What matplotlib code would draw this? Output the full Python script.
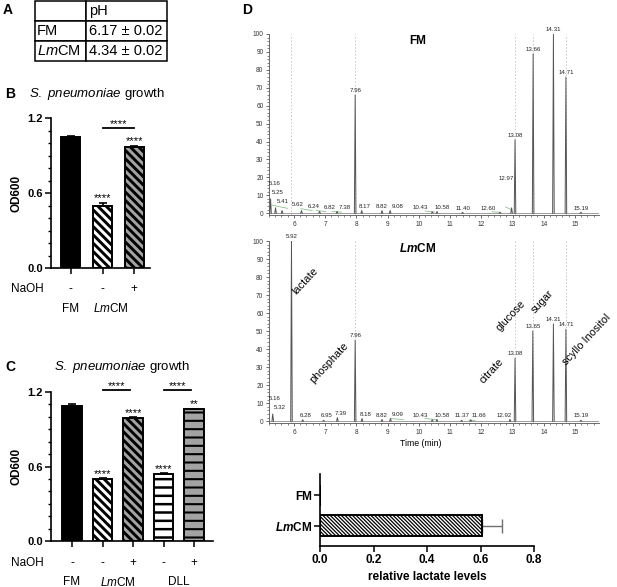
import numpy as np
import matplotlib.pyplot as plt
from matplotlib.ticker import MultipleLocator

plt.rcParams['font.family'] = ['Liberation Sans', 'DejaVu Sans']
plt.rcParams['mathtext.fontset'] = 'custom'
plt.rcParams['mathtext.rm'] = 'Liberation Sans'
plt.rcParams['mathtext.it'] = 'Liberation Sans:italic'
plt.rcParams['mathtext.bf'] = 'Liberation Sans:bold'
plt.rcParams['mathtext.bfit'] = 'Liberation Sans:italic:bold'

W, H = 617, 587

# ---- data ----
ph_header = ['', 'pH']
ph_rows = ['FM', r'$\mathit{Lm}$CM']
ph_values = ['6.17 ± 0.02', '4.34 ± 0.02']

b_naoh = ['-', '-', '+']
b_od = [1.05, 0.50, 0.97]
b_err = [0.008, 0.02, 0.01]
b_stars = ['', '****', '****']

c_naoh = ['-', '-', '+', '-', '+']
c_od = [1.09, 0.50, 0.99, 0.54, 1.06]
c_err = [0.012, 0.006, 0.006, 0.006, 0.006]
c_stars = ['', '****', '****', '****', '**']

fm_times = [5.16, 5.25, 5.41, 5.62, 6.24, 6.82, 7.38, 7.96, 8.17, 8.82, 9.08,
            10.43, 10.58, 11.40, 12.60, 12.97, 13.08, 13.66, 14.31, 14.71, 15.19]
fm_heights = [13, 8, 3, 1.5, 1.5, 1, 1, 66, 1.5, 1.5, 1.5,
              0.8, 1, 0.5, 0.5, 3, 41, 89, 100, 76, 0.5]
fm_base_start = [5.30, 6.22, 6.72, 7.22, 10.20, 12.35, 12.78]
fm_base_end = [5.80, 6.58, 7.02, 7.52, 10.50, 12.62, 12.95]
fm_base_level = [4.5, 2.5, 1.5, 1.0, 1.2, 0.8, 3.5]

lm_times = [5.16, 5.32, 5.92, 6.28, 6.95, 7.39, 7.96, 8.18, 8.82, 9.09,
            10.43, 10.58, 11.37, 11.66, 12.92, 13.08, 13.65, 14.31, 14.71, 15.19]
lm_heights = [9, 4, 100, 0.8, 0.5, 2, 45, 1.5, 1, 1.5,
              0.8, 1, 0.5, 0.8, 1, 35, 50, 54, 51, 0.5]
lm_base_start = [9.10, 10.20, 11.60]
lm_base_end = [9.50, 10.55, 11.80]
lm_base_level = [1.5, 1.5, 0.6]

marker_times = [5.92, 7.96, 13.08, 13.65, 14.71]

lactate_groups = ['FM', r'$\mathbfit{Lm}$CM']
lactate_vals = [0.0, 0.605]
lactate_err = [0.0, 0.075]


def rect(l, t, r, b):
    return [l / W, 1 - b / H, (r - l) / W, (b - t) / H]


def fx(px):
    return px / W


def fy(py):
    return 1 - py / H


fig = plt.figure(figsize=(W / 100, H / 100), dpi=100)

# ---- A: table ----
axA = fig.add_axes(rect(35, 1, 167, 61))
axA.axis('off')
cells = [ph_header] + [[r, v] for r, v in zip(ph_rows, ph_values)]
tab = axA.table(cellText=cells, colWidths=[51 / 132, 81 / 132],
                bbox=[0, 0, 1, 1], cellLoc='left')
tab.auto_set_font_size(False)
tab.set_fontsize(10.5)
for cell in tab.get_celld().values():
    cell.set_linewidth(1.1)
    cell.PAD = 0.04
fig.text(fx(3), fy(10), 'A', fontsize=10, fontweight='bold', va='center')


# ---- B / C: growth bars ----
def growth_panel(ax, od, err, stars, fills, hatches, hlws, width):
    x = np.arange(len(od))
    for i in range(len(od)):
        with plt.rc_context({'hatch.linewidth': hlws[i]}):
            bars = ax.bar(x[i], od[i], width=width, color=fills[i],
                          edgecolor='black', linewidth=1.4, zorder=2)
        for p in bars:
            if hatches[i]:
                p.set_hatch(hatches[i])
                if hasattr(p, 'set_hatch_linewidth'):
                    p.set_hatch_linewidth(hlws[i])
    ax.errorbar(x, od, yerr=[np.zeros(len(err)), err], fmt='none',
                ecolor='black', elinewidth=1.2, capsize=3, capthick=1.2, zorder=3)
    for i, s in enumerate(stars):
        if s:
            ax.text(x[i], od[i] + err[i] + 0.012, s, ha='center', va='baseline',
                    fontsize=8)
    ax.set_ylim(0, 1.2)
    ax.set_yticks([0, 0.6, 1.2], ['0.0', '0.6', '1.2'], fontweight='bold', fontsize=8)
    ax.yaxis.set_minor_locator(MultipleLocator(0.1))
    ax.set_xticks(x, [''] * len(x))
    for s in ['top', 'right']:
        ax.spines[s].set_visible(False)
    for s in ['left', 'bottom']:
        ax.spines[s].set_linewidth(1.2)
    ax.tick_params(which='major', length=4, width=1.1, pad=2)
    ax.tick_params(which='minor', length=2.5, width=1.0)
    ax.set_ylabel('OD600', fontweight='bold', fontsize=8.5)
    return x


gray = '#a3a3a3'
diag = '\\\\\\\\'

axB = fig.add_axes(rect(51, 118, 150, 268))
xb = growth_panel(axB, b_od, b_err, b_stars,
                  ['black', 'white', gray], [None, diag, diag],
                  [1.0, 2.1, 2.1], 0.6)
axB.set_xlim(-0.63, 2.5)
axB.yaxis.set_label_coords((22 - 51) / 99, 0.5)
axB.plot([1, 2], [1.12, 1.12], color='black', lw=1.3, clip_on=False)
axB.text(1.5, 1.13, '****', ha='center', va='baseline', fontsize=8)
for i, s in enumerate(b_naoh):
    axB.text(xb[i], (268 - 289) / 150, s, transform=axB.get_xaxis_transform(),
             ha='center', va='center', fontsize=8.5)
fig.text(fx(27), fy(289), 'NaOH', ha='center', va='center', fontsize=8.5)
axB.text(0, (268 - 309) / 150, 'FM', transform=axB.get_xaxis_transform(),
         ha='center', va='center', fontsize=8.5)
axB.text(1.25, (268 - 309) / 150, r'$\mathit{Lm}$CM',
         transform=axB.get_xaxis_transform(), ha='center', va='center', fontsize=8.5)
fig.text(fx(5), fy(94), 'B', fontsize=10, fontweight='bold', va='center')
fig.text(fx(97), fy(94), r'$\mathit{S.\ pneumoniae}$ growth', fontsize=9.5,
         ha='center', va='center')

axC = fig.add_axes(rect(51, 392, 213, 541))
xc = growth_panel(axC, c_od, c_err, c_stars,
                  ['black', 'white', gray, 'white', gray],
                  [None, diag, diag, '--', '--'],
                  [1.0, 2.1, 2.1, 1.8, 1.5], 0.64)
axC.set_xlim(-0.69, 4.62)
axC.yaxis.set_label_coords((22 - 51) / 162, 0.5)
for a, b in [(1, 2), (3, 4)]:
    axC.plot([a, b - 0.1], [1.215, 1.215], color='black', lw=1.3, clip_on=False)
    axC.text((a + b - 0.1) / 2, 1.225, '****', ha='center', va='baseline',
             fontsize=8)
for i, s in enumerate(c_naoh):
    axC.text(xc[i], (541 - 563) / 149, s, transform=axC.get_xaxis_transform(),
             ha='center', va='center', fontsize=8.5)
fig.text(fx(27), fy(563), 'NaOH', ha='center', va='center', fontsize=8.5)
for xpos, lab in [(0, 'FM'), (1.5, r'$\mathit{Lm}$CM'), (3.5, 'DLL')]:
    axC.text(xpos, (541 - 582) / 149, lab, transform=axC.get_xaxis_transform(),
             ha='center', va='center', fontsize=8.5)
fig.text(fx(5), fy(367), 'C', fontsize=10, fontweight='bold', va='center')
fig.text(fx(122), fy(367), r'$\mathit{S.\ pneumoniae}$ growth', fontsize=9.5,
         ha='center', va='center')


# ---- D: chromatograms ----
def peak_label(ax, t, h):
    lab = f'{t:.2f}'
    kw = dict(va='bottom', fontsize=4.4, color='#222222')
    if h >= 20:
        ax.text(t, h + 1.2, lab, ha='center', **kw)
    elif t < 5.5:
        ax.text(t + 0.05, h + 2.0, lab, ha='left', **kw)
    elif t < 5.7:
        ax.text(t + 0.3, h + 2.0, lab, ha='left', **kw)
    elif t == 6.24:
        ax.text(t + 0.2, h + 1.0, lab, ha='left', **kw)
    elif t == 6.82:
        ax.text(t + 0.13, h + 1.0, lab, ha='left', **kw)
    elif t == 7.38:
        ax.text(t + 0.05, h + 1.0, lab, ha='left', **kw)
    elif 12.9 <= t < 13.0:
        ax.text(t + 0.06, h + (15 if h > 2 else 0.8), lab, ha='right', **kw)
    elif t in (10.43, 12.60):
        ax.text(t - 0.12, h + 1.0, lab, ha='right', **kw)
    elif t in (8.82, 11.37, 11.40, 15.19):
        ax.text(t, h + 1.0, lab, ha='center', **kw)
    elif t in (9.08, 9.09, 11.66):
        ax.text(t + 0.04, h + 1.0, lab, ha='left', **kw)
    else:
        ax.text(t - 0.08, h + 1.0, lab, ha='left', **kw)


def chrom_panel(ax, times, heights, bstart, bend, blevel, title):
    for t in marker_times:
        ax.axvline(t, color='#c9c9b0', ls=(0, (1.5, 2)), lw=0.7, zorder=0)
    ax.plot([5.2, 15.77], [0.3, 0.3], color='#777777', lw=0.5)
    for s, e, lv in zip(bstart, bend, blevel):
        ax.plot([s, e], [lv, lv * 0.6], color='#8cc08c', lw=0.6)
    w = 0.025
    for t, h in zip(times, heights):
        ax.plot([t - w, t, t + w], [0, h, 0], color='#555555', lw=0.7)
        peak_label(ax, t, h)
    ax.set_xlim(5.2, 15.77)
    ax.set_ylim(-1, 100)
    ax.set_xticks(range(6, 16))
    ax.xaxis.set_minor_locator(MultipleLocator(0.2))
    ax.set_yticks(range(0, 101, 10))
    ax.yaxis.set_minor_locator(MultipleLocator(2))
    for s in ['top', 'right']:
        ax.spines[s].set_visible(False)
    for s in ['left', 'bottom']:
        ax.spines[s].set_linewidth(0.6)
        ax.spines[s].set_color('#555555')
    ax.tick_params(which='major', length=2.5, width=0.6, pad=1.5,
                   labelsize=4.7, color='#555555', labelcolor='#333333')
    ax.tick_params(which='minor', length=1.5, width=0.5, color='#555555')
    ax.text(0.45, 0.96, title, transform=ax.transAxes, ha='center', va='center',
            fontsize=8.5, fontweight='bold')


axD1 = fig.add_axes(rect(269, 34, 599, 215))
chrom_panel(axD1, fm_times, fm_heights, fm_base_start, fm_base_end,
            fm_base_level, 'FM')
axD2 = fig.add_axes(rect(269, 241, 599, 423))
chrom_panel(axD2, lm_times, lm_heights, lm_base_start, lm_base_end,
            lm_base_level, r'$\mathbfit{Lm}$CM')
axD2.set_xlabel('Time (min)', fontsize=6.3, va='center')
axD2.xaxis.set_label_coords(0.46, (423 - 443) / 182)
fig.text(fx(242), fy(10), 'D', fontsize=10, fontweight='bold', va='center')

for lab, t, y in [('lactate', 6.13, 69), ('phosphate', 6.67, 20),
                  ('citrate', 12.12, 20), ('glucose', 12.66, 49),
                  ('sugar', 13.78, 59), ('scyllo Inositol', 14.78, 30)]:
    axD2.text(t, y, lab, rotation=47, rotation_mode='anchor', ha='left',
              va='bottom', fontsize=7.8)

# ---- lactate levels ----
axL = fig.add_axes(rect(320, 474, 534, 546))
yl = np.array([1, 0])
with plt.rc_context({'hatch.linewidth': 0.9}):
    lbars = axL.barh(yl, lactate_vals, height=0.68, color='white',
                     edgecolor='black', linewidth=1.4, hatch='\\' * 9, zorder=2)
for p in lbars:
    if hasattr(p, 'set_hatch_linewidth'):
        p.set_hatch_linewidth(0.9)
for i in range(len(lactate_vals)):
    if lactate_err[i] > 0:
        axL.errorbar(lactate_vals[i], yl[i], xerr=[[0], [lactate_err[i]]],
                     fmt='none', ecolor='#707070', elinewidth=1.0, capsize=5,
                     capthick=1.0, zorder=1)
axL.set_xlim(0, 0.8)
axL.set_ylim(-0.65, 1.68)
axL.set_xticks([0, 0.2, 0.4, 0.6, 0.8], ['0.0', '0.2', '0.4', '0.6', '0.8'],
               fontweight='bold', fontsize=8.5)
axL.set_yticks(yl, lactate_groups, fontweight='bold', fontsize=8.5)
for s in ['top', 'right']:
    axL.spines[s].set_visible(False)
for s in ['left', 'bottom']:
    axL.spines[s].set_linewidth(1.2)
axL.tick_params(length=4, width=1.1, pad=2)
axL.set_xlabel('relative lactate levels', fontweight='bold', fontsize=8.5,
               va='center')
axL.xaxis.set_label_coords(0.5, (546 - 577) / 72)

fig.savefig('out.png', dpi=100)
